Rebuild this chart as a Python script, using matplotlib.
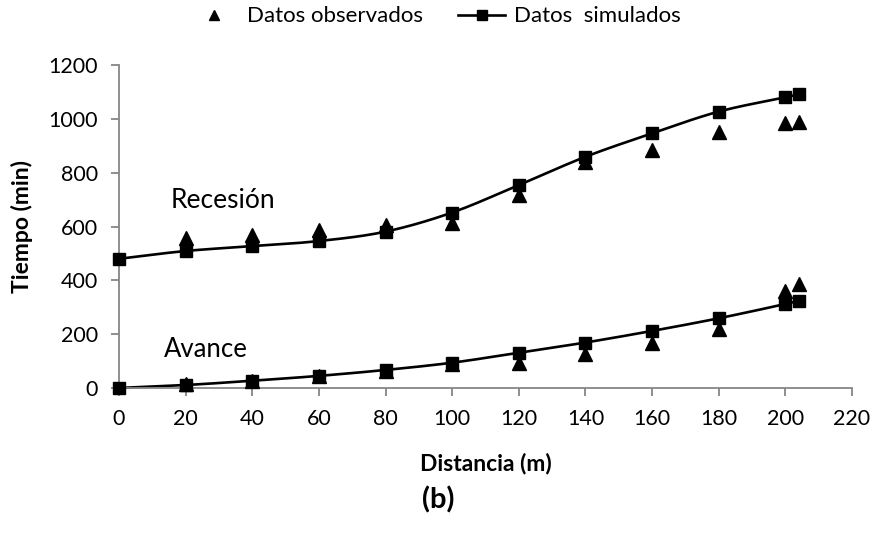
import numpy as np
import matplotlib.pyplot as plt
from matplotlib.lines import Line2D

plt.rcParams['font.family'] = ['Lato', 'DejaVu Sans']

# Distances (m)
dist = [0, 20, 40, 60, 80, 100, 120, 140, 160, 180, 200, 204]

# Simulated times (min)
rec_sim = [480, 509, 527, 546, 581, 652, 754, 859, 946, 1027, 1080, 1091]
av_sim = [0, 11, 27, 45, 67, 94, 131, 169, 212, 259, 312, 324]

# Observed times (min)
dist_obs = [20, 40, 60, 80, 100, 120, 140, 160, 180, 200, 204]
rec_obs = [556, 569, 588, 605, 614, 718, 841, 884, 952, 985, 990]
av_obs = [15, 27, 45, 64, 88, 92, 126, 168, 218, 361, 385]


def smooth(x, y, n=20):
    # Excel-like smoothed line (Catmull-Rom through the points)
    x = np.asarray(x, float)
    y = np.asarray(y, float)
    px = np.concatenate([[2 * x[0] - x[1]], x, [2 * x[-1] - x[-2]]])
    py = np.concatenate([[2 * y[0] - y[1]], y, [2 * y[-1] - y[-2]]])
    xs, ys = [], []
    t = np.linspace(0, 1, n)
    for i in range(1, len(px) - 2):
        for arr, out in ((px, xs), (py, ys)):
            p0, p1, p2, p3 = arr[i - 1], arr[i], arr[i + 1], arr[i + 2]
            out.extend(0.5 * ((2 * p1) + (-p0 + p2) * t
                              + (2 * p0 - 5 * p1 + 4 * p2 - p3) * t ** 2
                              + (-p0 + 3 * p1 - 3 * p2 + p3) * t ** 3))
    return xs, ys


fig = plt.figure(figsize=(8.77, 5.40), dpi=100)
ax = fig.add_axes([0.1357, 0.2815, 0.8358, 0.5981])

for ysim in (rec_sim, av_sim):
    sx, sy = smooth(dist, ysim)
    ax.plot(sx, sy, color='black', lw=1.9, zorder=2, clip_on=False)
    ax.plot(dist, ysim, 's', color='black', ms=8, zorder=3, clip_on=False)

for yobs in (rec_obs, av_obs):
    ax.plot(dist_obs, yobs, '^', color='black', ms=9.5, zorder=3, clip_on=False)

ax.set_xlim(0, 220)
ax.set_ylim(0, 1200)
ax.set_xticks(range(0, 221, 20))
ax.set_yticks(range(0, 1201, 200))
for s in ('top', 'right'):
    ax.spines[s].set_visible(False)
for s in ('left', 'bottom'):
    ax.spines[s].set_color('#868686')
    ax.spines[s].set_linewidth(1.3)
ax.tick_params(color='#868686', length=6, width=1.3, labelsize=15.5,
               direction='out', pad=9)

ax.set_xlabel('Distancia (m)', fontsize=16.5, fontweight='bold', labelpad=17)
ax.set_ylabel('Tiempo (min)', fontsize=16.5, fontweight='bold', labelpad=11)

ax.text(15.5, 669, 'Recesión', fontsize=19)
ax.text(13.5, 115, 'Avance', fontsize=18.5)

handles = [
    Line2D([], [], ls='none', marker='^', color='black', ms=6.5),
    Line2D([], [], ls='-', lw=1.9, marker='s', color='black', ms=7),
]
fig.legend(handles, ['Datos observados', 'Datos  simulados'], loc='upper center',
           bbox_to_anchor=(0.497, 1.025), ncol=2, frameon=False, fontsize=16,
           handlelength=2.1, columnspacing=1.6, handletextpad=0.4)

fig.text(0.5, 0.058, '(b)', ha='center', fontsize=21, fontweight='bold')

fig.savefig('out.png', dpi=100)
